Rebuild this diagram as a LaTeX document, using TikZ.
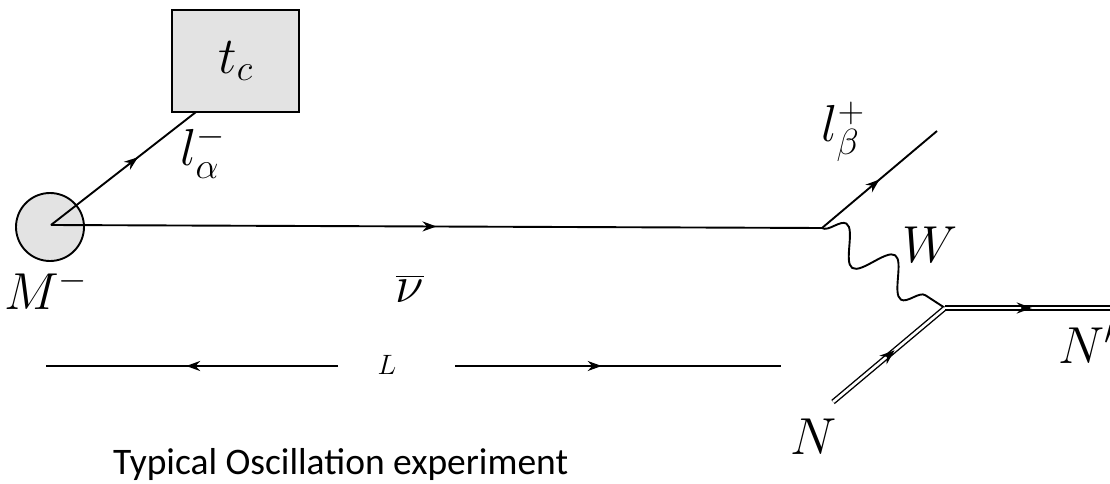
\RequirePackage{fix-cm}
\documentclass[tikz,border=0pt]{standalone}
\usepackage{exscale}
\usepackage{fontspec}
\newfontfamily\calib{Carlito}
\usetikzlibrary{decorations.pathmorphing,decorations.markings,arrows.meta}
\tikzset{
  fermion/.style={line width=1.9pt, postaction={decorate},
    decoration={markings, mark=at position #1 with {\arrow{Stealth[length=14pt,width=10pt]}}}},
  fermion/.default=0.5,
  heavy/.style={double, double distance=2.6pt, line width=1.4pt, postaction={decorate},
    decoration={markings, mark=at position #1 with {\arrow{Stealth[length=15pt,width=11pt]}}}},
  heavy/.default=0.5,
  boson/.style={line width=1.9pt, decorate, decoration={snake, segment length=58pt, amplitude=17pt}},
  lab/.style={font=\fontsize{52}{62}\selectfont, inner sep=0pt},
  blob/.style={circle, draw, line width=1.9pt, fill=gray!22, minimum size=68pt, inner sep=0pt},
  detector/.style={rectangle, draw, line width=1.9pt, fill=gray!22, minimum width=127pt, minimum height=102pt, inner sep=0pt}
}
\begin{document}
\begin{tikzpicture}[x=1pt,y=-1pt]
\useasboundingbox (0,0) rectangle (1110,484);
\node[blob] (M) at (50,227) {};
\coordinate (Mc) at (51,225);
\node[detector] (tc) at (235.5,61) {};
\node[lab] at (tc.center) {$t_c$};
\coordinate (tcb) at (196,112);
\coordinate (v1) at (822,228);
\coordinate (lb) at (937,131);
\coordinate (v2) at (945,308);
\coordinate (Nin) at (833,402);
\coordinate (Nout) at (1112,308);
\coordinate (La) at (338,366);
\coordinate (Lb) at (46,366);
\coordinate (Lc) at (455,366);
\coordinate (Ld) at (781,366);

\draw[fermion=0.5] (Mc) -- (v1);
\draw[fermion=0.6] (Mc) -- (tcb);
\draw[fermion=0.5] (v1) -- (lb);
\draw[boson] (v1) -- (v2);
\draw[heavy=0.55] (Nin) -- (v2);
\draw[heavy=0.52] (v2) -- (Nout);
\draw[fermion=0.52] (La) -- (Lb);
\draw[fermion=0.45] (Lc) -- (Ld);

\node[lab] (la) at (203,152) {$l_\alpha^-$};
\node[lab] (Mlab) at (46,289) {$M^-$};
\node[lab] (nu) at (410,289) {$\overline{\nu}$};
\node[lab] (lbl) at (843,132) {$l_\beta^+$};
\node[lab] (W) at (930,245) {$W$};
\node[lab] (N) at (814,437) {$N$};
\node[lab, anchor=west] (Np) at (1058,344) {$N'$};
\node[font=\fontsize{28}{32}\selectfont, inner sep=0pt] (L) at (387,365) {$L$};
\node[font=\calib\fontsize{37.5}{44}\selectfont, anchor=base west, inner sep=0pt] (cap) at (113,474) {Typical Oscillation experiment};
\end{tikzpicture}
\end{document}
